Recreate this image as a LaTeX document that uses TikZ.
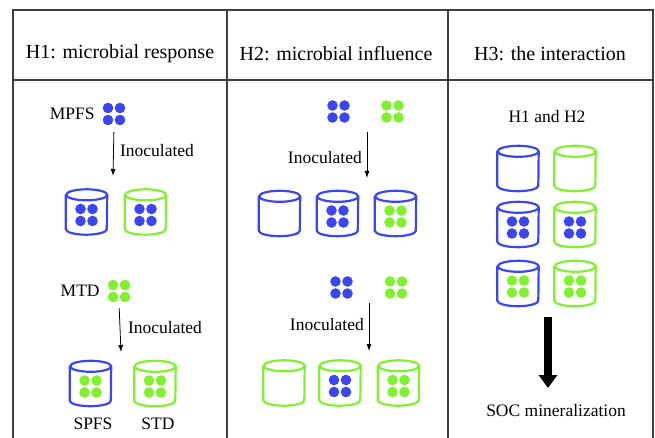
\documentclass[tikz,border=0pt]{standalone}
\usepackage{fontspec}
\setmainfont{Liberation Serif}
\usetikzlibrary{arrows.meta, positioning}
\definecolor{seedblue}{RGB}{60,70,240}
\definecolor{seedgreen}{RGB}{128,240,48}
\definecolor{rule}{RGB}{64,64,64}

\begin{document}
\begin{tikzpicture}[x=1pt, y=1pt,
    head/.style={font=\fontsize{20}{24}\selectfont},
    txt/.style={font=\fontsize{17.5}{21}\selectfont, inner sep=0pt},
    seeds/.style n args={2}{path picture={
        \foreach \sx in {-6,6} \foreach \sy in {-6,6}
            \fill[#1] ([shift={(\sx,\sy+#2)}]path picture bounding box.center) circle[radius=5.3];}},
    cluster/.style={minimum size=24pt, inner sep=0pt, seeds={#1}{0}},
    can/.style={minimum width=41pt, minimum height=45pt, inner sep=0pt,
        append after command={\pgfextra{\pgfinterruptpath
            \draw[#1, line width=2.2pt] ([yshift=-5.5pt]\tikzlastnode.north west)
                -- ([yshift=5.5pt]\tikzlastnode.south west)
                arc[start angle=180, end angle=360, x radius=20.5, y radius=5.5]
                -- ([yshift=-5.5pt]\tikzlastnode.north east)
                arc[start angle=0, end angle=360, x radius=20.5, y radius=5.5];
        \endpgfinterruptpath}}},
    arrow/.style={-{Latex[length=7pt,width=5pt]}, line width=0.8pt},
    big/.style={-{Triangle[length=13pt,width=18pt]}, line width=7.5pt}
]
    \useasboundingbox (0,0) rectangle (655,-438);

    % table
    \draw[rule, line width=1.5pt] (13,-445) |- (653,-10) -- (653,-445);
    \draw[rule, line width=1.5pt] (13,-80) -- (653,-80);
    \draw[rule, line width=1.5pt] (227,-10) -- (227,-445) (448,-10) -- (448,-445);

    \node[head] (h1) at (120,-54) {H1: microbial response};
    \node[head] (h2) at (336,-54) {H2: microbial influence};
    \node[head] (h3) at (550,-54) {H3: the interaction};

    % H1
    \node[cluster=seedblue] (mpfs) at (114,-114) {};
    \node[txt, left=7pt of mpfs] (mpfslab) {MPFS};
    \coordinate (in1) at (113,-176);
    \draw[arrow, shorten <=6pt] (mpfs.south) -- (in1);
    \node[txt] (inoc1) at (157,-151) {Inoculated};
    \node[can=seedblue, seeds={seedblue}{-3}] (spfs1) at (86.5,-212) {};
    \node[can=seedgreen, seeds={seedblue}{-3}] (std1) at (145.5,-212) {};

    \node[cluster=seedgreen] (mtd) at (119,-291) {};
    \node[txt, left=7pt of mtd] (mtdlab) {MTD};
    \coordinate (in2) at (121,-352);
    \draw[arrow, shorten <=5pt] (mtd.south) -- (in2);
    \node[txt] (inoc2) at (165,-328) {Inoculated};
    \node[can=seedblue, seeds={seedgreen}{-3}] (spfs2) at (90.5,-383.5) {};
    \node[can=seedgreen, seeds={seedgreen}{-3}] (std2) at (155,-383.5) {};
    \node[txt] (spfslab) at (93,-424) {SPFS};
    \node[txt] (stdlab) at (158,-424) {STD};

    % H2
    \node[cluster=seedblue] (mpfsa) at (338.5,-111.5) {};
    \node[cluster=seedgreen] (mtda) at (392.5,-111.5) {};
    \coordinate (top3) at (367,-132);
    \coordinate (in3) at (367,-178);
    \draw[arrow] (top3) -- (in3);
    \node[txt, left=5pt of top3, yshift=-26pt] (inoc3) {Inoculated};
    \node[can=seedblue] (spfsa) at (279.5,-213.5) {};
    \node[can=seedblue, seeds={seedblue}{-3}] (spfsb) at (337.5,-213.5) {};
    \node[can=seedblue, seeds={seedgreen}{-3}] (spfsc) at (395.5,-213.5) {};

    \node[cluster=seedblue] (mpfsb) at (341.5,-287.5) {};
    \node[cluster=seedgreen] (mtdb) at (396,-287.5) {};
    \coordinate (top4) at (369,-303);
    \coordinate (in4) at (369,-351);
    \draw[arrow] (top4) -- (in4);
    \node[txt, left=5pt of top4, yshift=-22pt] (inoc4) {Inoculated};
    \node[can=seedgreen] (stda) at (284,-383) {};
    \node[can=seedgreen, seeds={seedblue}{-3}] (stdb) at (340,-383) {};
    \node[can=seedgreen, seeds={seedgreen}{-3}] (stdc) at (398.5,-383) {};

    % H3
    \node[txt] (both) at (547,-117) {H1 and H2};
    \node[can=seedblue] (spfsx) at (518,-168.5) {};
    \node[can=seedgreen] (stdx) at (575,-168.5) {};
    \node[can=seedblue, seeds={seedblue}{-3}] (spfsy) at (518,-224.5) {};
    \node[can=seedgreen, seeds={seedblue}{-3}] (stdy) at (575,-224.5) {};
    \node[can=seedblue, seeds={seedgreen}{-3}] (spfsz) at (518,-283.5) {};
    \node[can=seedgreen, seeds={seedgreen}{-3}] (stdz) at (575,-283.5) {};
    \coordinate (soctop) at (548,-317);
    \coordinate (socend) at (548,-388);
    \draw[big] (soctop) -- (socend);
    \node[txt] (soc) at (556,-411) {SOC mineralization};
\end{tikzpicture}
\end{document}
